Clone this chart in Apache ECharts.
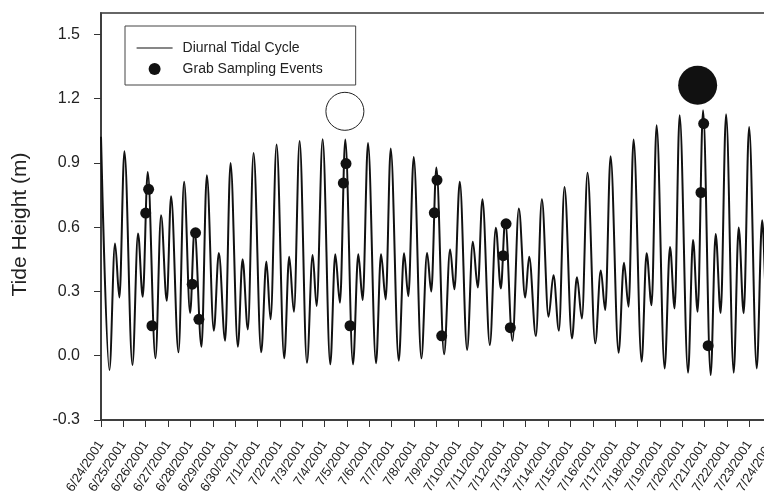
<!DOCTYPE html>
<html>
<head>
<meta charset="utf-8">
<script src="https://cdn.jsdelivr.net/npm/echarts@6/dist/echarts.min.js"></script>
<style>
  html, body { margin: 0; padding: 0; background: #fff; overflow: hidden; }
  /* the original figure is cut off on the right, so the chart is wider than the window */
  #chart { width: 800px; height: 499px; }
</style>
</head>
<body>
<div id="chart"></div>
<script>
// tide extremes (days since 6/24/2001, metres)
const tideDays = [
  0.00, 0.376, 0.627, 0.824, 1.048, 1.406, 1.657, 1.867, 2.091, 2.436,
  2.687, 2.942, 3.135, 3.466, 3.717, 3.986, 4.183, 4.496, 4.734, 5.047,
  5.271, 5.553, 5.795, 6.122, 6.332, 6.570, 6.825, 7.165, 7.398, 7.586,
  7.855, 8.195, 8.419, 8.630, 8.885, 9.212, 9.467, 9.646, 9.915, 10.255,
  10.479, 10.690, 10.927, 11.272, 11.509, 11.706, 11.944, 12.302, 12.526, 12.736,
  12.960, 13.318, 13.556, 13.748, 13.990, 14.331, 14.586, 14.774, 15.002, 15.347,
  15.616, 15.809, 16.050, 16.377, 16.632, 16.856, 17.062, 17.394, 17.662, 17.886,
  18.079, 18.406, 18.692, 18.975, 19.154, 19.454, 19.722, 20.018, 20.242, 20.484,
  20.734, 21.066, 21.290, 21.514, 21.764, 22.109, 22.356, 22.557, 22.795, 23.153,
  23.394, 23.600, 23.824, 24.183, 24.406, 24.630, 24.854, 25.212, 25.454, 25.660,
  25.884, 26.260, 26.484, 26.690, 26.932, 27.272, 27.496, 27.720, 27.962, 28.302,
  28.526, 28.750, 28.992, 29.333, 29.575, 29.79, 30.01
];
const tideHeights = [
  1.022, -0.067, 0.524, 0.272, 0.955, -0.043, 0.571, 0.275, 0.858, -0.012,
  0.656, 0.257, 0.745, 0.016, 0.812, 0.200, 0.590, 0.042, 0.843, 0.117,
  0.480, 0.070, 0.900, 0.042, 0.451, 0.123, 0.947, 0.016, 0.440, 0.170,
  0.986, -0.012, 0.462, 0.205, 1.003, -0.033, 0.470, 0.232, 1.011, -0.040,
  0.474, 0.247, 1.009, -0.040, 0.474, 0.260, 0.993, -0.035, 0.474, 0.263,
  0.967, -0.023, 0.478, 0.278, 0.928, -0.012, 0.480, 0.300, 0.879, 0.007,
  0.496, 0.310, 0.812, 0.027, 0.532, 0.319, 0.731, 0.050, 0.597, 0.314,
  0.630, 0.070, 0.687, 0.272, 0.462, 0.092, 0.731, 0.182, 0.376, 0.117,
  0.788, 0.081, 0.366, 0.174, 0.854, 0.058, 0.398, 0.213, 0.931, 0.014,
  0.434, 0.229, 1.009, -0.028, 0.478, 0.236, 1.076, -0.059, 0.508, 0.221,
  1.123, -0.079, 0.540, 0.205, 1.146, -0.090, 0.568, 0.200, 1.127, -0.079,
  0.599, 0.198, 1.068, -0.059, 0.633, 0.200, 1.020
];

// grab samples
const sampleDays = [2.00, 2.13, 2.28, 4.08, 4.23, 4.38, 10.84, 10.96, 11.14,
  14.91, 15.03, 15.24, 17.99, 18.12, 18.31, 26.84, 26.96, 27.16];
const sampleHeights = [0.666, 0.777, 0.140, 0.334, 0.574, 0.170, 0.806, 0.897, 0.140,
  0.667, 0.820, 0.093, 0.467, 0.616, 0.131, 0.762, 1.084, 0.047];

// moon markers
const fullMoon = [[10.91, 1.141]];
const newMoon = [[26.69, 1.263]];

const dateLabels = [
  '6/24/2001', '6/25/2001', '6/26/2001', '6/27/2001', '6/28/2001', '6/29/2001', '6/30/2001',
  '7/1/2001', '7/2/2001', '7/3/2001', '7/4/2001', '7/5/2001', '7/6/2001', '7/7/2001',
  '7/8/2001', '7/9/2001', '7/10/2001', '7/11/2001', '7/12/2001', '7/13/2001', '7/14/2001',
  '7/15/2001', '7/16/2001', '7/17/2001', '7/18/2001', '7/19/2001', '7/20/2001', '7/21/2001',
  '7/22/2001', '7/23/2001', '7/24/2001'
];
const yTicks = [-0.3, 0, 0.3, 0.6, 0.9, 1.2, 1.5];

const xTicks = dateLabels.map((d, i) => i);
const tideData = tideDays.map((d, i) => [d, tideHeights[i]]);
const sampleData = sampleDays.map((d, i) => [d, sampleHeights[i]]);

const font = "'Liberation Sans', Arial, sans-serif";

const chart = echarts.init(document.getElementById('chart'));
chart.setOption({
  animation: false,
  backgroundColor: '#fff',
  grid: {
    left: 101,
    right: 6,
    top: 13,
    bottom: 79,
    show: true,
    borderColor: '#666',
    borderWidth: 2
  },
  legend: {
    orient: 'vertical',
    left: 125,
    top: 26,
    padding: [15, 33, 9, 11],
    itemGap: 7,
    itemWidth: 36,
    itemHeight: 12,
    borderColor: '#444',
    borderWidth: 1,
    selectedMode: false,
    textStyle: { fontFamily: font, fontSize: 14, color: '#222', padding: [0, 0, 0, 5] },
    data: [
      { name: 'Diurnal Tidal Cycle', itemStyle: { opacity: 0 } },
      { name: 'Grab Sampling Events', icon: 'circle' }
    ],
    lineStyle: { width: 1.2, color: '#111' }
  },
  xAxis: {
    type: 'value',
    min: 0,
    max: 31,
    interval: 1,
    splitLine: { show: false },
    axisLine: { onZero: false, lineStyle: { color: '#333', width: 1.5 } },
    axisTick: { show: true, length: 7, lineStyle: { color: '#333' }, customValues: xTicks },
    axisLabel: {
      customValues: xTicks,
      rotate: 57,
      margin: 22,
      fontFamily: font,
      fontSize: 13,
      color: '#222',
      formatter: v => dateLabels[Math.round(v)] || ''
    }
  },
  yAxis: {
    type: 'value',
    min: -0.3,
    max: 1.6,
    interval: 0.3,
    name: 'Tide Height (m)',
    nameLocation: 'middle',
    nameGap: 70,
    nameTextStyle: { fontFamily: font, fontSize: 21, color: '#222', padding: [0, 16, 0, 0] },
    splitLine: { show: false },
    axisLine: { onZero: false, lineStyle: { color: '#333', width: 1.5 } },
    axisTick: { show: true, length: 7, lineStyle: { color: '#333' }, customValues: yTicks },
    axisLabel: {
      customValues: yTicks,
      margin: 21,
      fontFamily: font,
      fontSize: 16,
      color: '#222',
      formatter: v => v.toFixed(1)
    }
  },
  series: [
    {
      name: 'Diurnal Tidal Cycle',
      type: 'line',
      data: tideData,
      symbol: 'none',
      smooth: 0.35,
      smoothMonotone: 'x',
      lineStyle: { color: '#111', width: 2 },
      itemStyle: { color: '#111' },
      z: 2
    },
    {
      name: 'Grab Sampling Events',
      type: 'scatter',
      data: sampleData,
      symbolSize: 11,
      itemStyle: { color: '#111', opacity: 1 },
      z: 3
    },
    {
      name: 'full moon',
      type: 'scatter',
      data: fullMoon,
      symbolSize: 38,
      itemStyle: { color: '#fff', borderColor: '#222', borderWidth: 1, opacity: 1 },
      z: 3
    },
    {
      name: 'new moon',
      type: 'scatter',
      data: newMoon,
      symbolSize: 39,
      itemStyle: { color: '#111', opacity: 1 },
      z: 3
    }
  ]
});
</script>
</body>
</html>
